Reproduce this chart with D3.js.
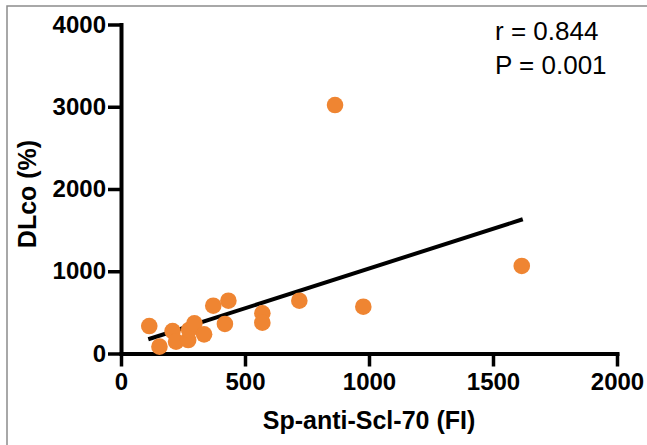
<!DOCTYPE html>
<html>
<head>
<meta charset="utf-8">
<script src="https://cdn.jsdelivr.net/npm/d3@7"></script>
<style>
  body { margin: 0; background: #fff; }
  svg text { font-family: "Liberation Sans", Arial, sans-serif; }
</style>
</head>
<body>
<div id="chart"></div>
<script>
// data
var spAntiScl70 = [114, 155, 208, 222, 271, 275, 296, 335, 372, 433, 419, 570, 570, 719, 977, 1616, 863];
var dlco        = [334,  83, 273, 144, 164, 286, 367, 233, 581, 642, 359, 489, 375, 642, 569, 1064, 3021];
var fitX = [110, 1620];
var fitY = [173, 1632];
var xTicks = [0, 500, 1000, 1500, 2000];
var yTicks = [0, 1000, 2000, 3000, 4000];
var statLines = ["r = 0.844", "P = 0.001"];

var W = 647, H = 445;
var svg = d3.select("#chart").append("svg")
    .attr("width", W)
    .attr("height", H);

// frame of the figure
svg.append("rect")
    .attr("x", 7).attr("y", 6)
    .attr("width", W + 10).attr("height", H + 10)
    .attr("fill", "none")
    .attr("stroke", "#8c8c8c")
    .attr("stroke-width", 1.5);

var x = d3.scaleLinear().domain([0, 2000]).range([121, 617]);
var y = d3.scaleLinear().domain([0, 4000]).range([353.5, 24.5]);

var xAxis = svg.append("g")
    .attr("transform", "translate(0," + y(0) + ")")
    .call(d3.axisBottom(x).tickValues(xTicks).tickSize(13).tickSizeOuter(0).tickPadding(6).tickFormat(d3.format("d")));

var yAxis = svg.append("g")
    .attr("transform", "translate(" + x(0) + ",0)")
    .call(d3.axisLeft(y).tickValues(yTicks).tickSize(13).tickSizeOuter(0).tickPadding(2).tickFormat(d3.format("d")));

[xAxis, yAxis].forEach(function(a) {
    a.select(".domain").attr("stroke", "#000").attr("stroke-width", 4).attr("stroke-linecap", "square");
    a.selectAll(".tick line").attr("stroke", "#000").attr("stroke-width", 3.5);
    a.selectAll(".tick text")
        .attr("fill", "#000")
        .style("font-size", "24px")
        .style("font-weight", "bold")
        .style("font-family", "'Liberation Sans', Arial, sans-serif");
});

// axis titles
svg.append("text")
    .attr("x", (x(0) + x(2000)) / 2)
    .attr("y", 429)
    .attr("text-anchor", "middle")
    .style("font-size", "25px")
    .style("font-weight", "bold")
    .text("Sp-anti-Scl-70 (FI)");

svg.append("text")
    .attr("transform", "translate(36," + 194 + ") rotate(-90)")
    .attr("text-anchor", "middle")
    .style("font-size", "25px")
    .style("font-weight", "bold")
    .text("DLco (%)");

// regression line
svg.append("line")
    .attr("x1", x(fitX[0])).attr("y1", y(fitY[0]))
    .attr("x2", x(fitX[1])).attr("y2", y(fitY[1]))
    .attr("stroke", "#000")
    .attr("stroke-width", 4);

// points
svg.append("g").selectAll("circle")
    .data(d3.range(spAntiScl70.length))
    .enter().append("circle")
    .attr("cx", function(i) { return x(spAntiScl70[i]); })
    .attr("cy", function(i) { return y(dlco[i]); })
    .attr("r", 8.3)
    .attr("fill", "#ef8532");

// r and P
svg.append("g").selectAll("text")
    .data(statLines)
    .enter().append("text")
    .attr("x", 495)
    .attr("y", function(d, i) { return 40 + i * 34; })
    .style("font-size", "26px")
    .text(function(d) { return d; });
</script>
</body>
</html>
